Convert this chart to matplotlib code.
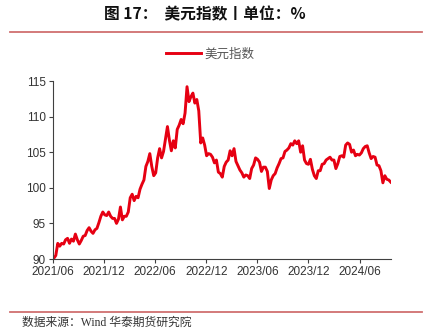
import numpy as np
import pandas as pd
import matplotlib
matplotlib.use('Agg')
import matplotlib.pyplot as plt
import matplotlib.dates as mdates
from matplotlib.lines import Line2D

plt.rcParams['font.family'] = ['Noto Sans CJK SC', 'DejaVu Sans']

# weekly closes (Fridays), dollar index
usd_2021 = [90.1, 90.5, 92.2, 91.8,
            92.2, 92.1, 92.7, 92.9, 92.2,
            92.8, 92.5, 93.5, 92.7,
            92.1, 92.6, 93.2, 93.3,
            94.0, 94.4, 93.9, 93.6, 94.1,
            94.3, 95.1, 96.0, 96.6,
            96.2, 96.1, 96.6, 96.0, 95.7]
usd_2022 = [95.7, 95.0, 95.6, 97.3,
            95.5, 96.0, 96.0, 96.6,
            98.6, 99.1, 98.2, 98.8,
            98.6, 99.8, 100.5, 101.1, 103.0,
            103.7, 104.8, 103.0, 101.7,
            102.1, 104.2, 105.5, 104.2,
            105.1, 106.9, 108.6, 106.7, 105.2,
            106.6, 105.6, 108.2, 108.8,
            109.6, 109.0, 110.5, 114.2, 112.1,
            112.8, 113.3, 111.9, 112.4,
            110.8, 106.3, 107.0, 106.0,
            104.5, 104.8, 104.7, 104.3, 103.5]
usd_2023 = [103.9, 102.2, 102.0, 101.5,
            103.0, 103.6, 103.9, 105.2,
            104.5, 105.5, 103.7, 103.1, 102.5,
            102.1, 101.5, 101.8, 101.7,
            101.3, 102.7, 103.2, 104.2,
            104.0, 103.6, 102.3, 102.9, 102.9,
            102.3, 99.9, 101.1, 101.7,
            102.0, 102.8, 103.4, 104.1,
            104.2, 105.1, 105.3, 105.6, 106.2,
            106.0, 106.6, 106.2, 106.6,
            105.0, 105.9, 103.9, 103.4,
            103.3, 104.0, 102.6, 101.7, 101.3]
usd_2024 = [102.4, 102.4, 103.3, 103.4,
            103.9, 104.1, 104.3, 103.9,
            103.9, 102.7, 103.4, 104.4, 104.5,
            104.3, 106.0, 106.3, 106.1,
            105.0, 105.3, 104.5, 104.7, 104.6,
            104.9, 105.5, 105.8, 105.9,
            104.9, 104.1, 104.4, 104.3,
            103.2, 103.1, 102.4, 100.7, 101.7,
            101.2, 101.1, 100.8]

usd = [90.0] + usd_2021 + usd_2022 + usd_2023 + usd_2024
dates = [pd.Timestamp('2021-06-01')] + list(pd.date_range('2021-06-04', periods=len(usd) - 1, freq='W-FRI'))

tick_dates = ['2021-06-01', '2021-12-01', '2022-06-01', '2022-12-01',
              '2023-06-01', '2023-12-01', '2024-06-01']
tick_labels = ['2021/06', '2021/12', '2022/06', '2022/12', '2023/06', '2023/12', '2024/06']
yticks = [90, 95, 100, 105, 110, 115]

red = '#e60012'
fig = plt.figure(figsize=(4.31, 3.32), dpi=100)

fig.text(104 / 431, 1 - 14 / 332, '图 17：  美元指数丨单位：%', fontsize=11.3,
         fontweight='bold', ha='left', va='center', color='#111111')
for yy in (31.5, 312):
    fig.add_artist(Line2D([10 / 431, 422 / 431], [1 - yy / 332] * 2,
                          color='#d07070', lw=1.3, transform=fig.transFigure))
fig.text(22 / 431, 1 - 323 / 332, '数据来源：Wind 华泰期货研究院', fontsize=8.5,
         family=['Liberation Serif', 'Noto Sans CJK SC'], ha='left', va='center',
         color='#333333')

ax = fig.add_axes([53 / 431, 1 - 259 / 332, 338 / 431, 178 / 332])
ax.plot(dates, usd, color=red, lw=2.1, label='美元指数')

ax.set_xlim(pd.Timestamp('2021-06-01'), pd.Timestamp('2024-09-21'))
ax.set_ylim(90, 115)
ax.set_yticks(yticks)
ax.set_xticks([pd.Timestamp(d) for d in tick_dates])
ax.set_xticklabels(tick_labels)
for sp in ('top', 'right'):
    ax.spines[sp].set_visible(False)
for sp in ('left', 'bottom'):
    ax.spines[sp].set_color('#404040')
    ax.spines[sp].set_linewidth(0.8)
ax.tick_params(axis='both', direction='out', length=3, width=0.8, color='#404040',
               labelsize=8.5, labelcolor='#333333', pad=2)
for lab in ax.get_xticklabels() + ax.get_yticklabels():
    lab.set_family(['Liberation Sans', 'DejaVu Sans'])

leg = ax.legend(loc='center', bbox_to_anchor=(210 / 431, 1 - 54 / 332),
                bbox_transform=fig.transFigure, frameon=False, fontsize=9,
                handlelength=2.8, handletextpad=0.3, borderpad=0)
for t in leg.get_texts():
    t.set_color('#555555')

fig.savefig('out.png', dpi=100)
